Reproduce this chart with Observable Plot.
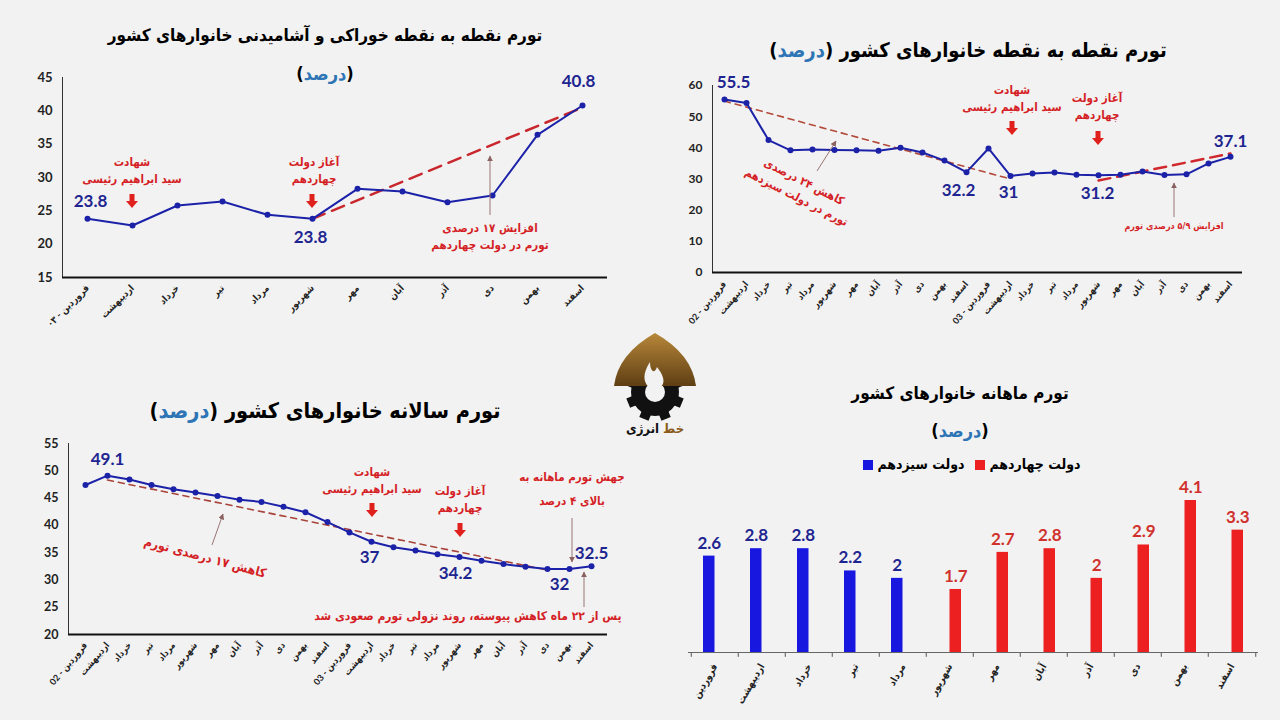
<!DOCTYPE html>
<html><head><meta charset="utf-8">
<script src="https://cdn.jsdelivr.net/npm/d3@7"></script>
<script src="https://cdn.jsdelivr.net/npm/@observablehq/plot@0.6"></script>
<style>
body{margin:0;background:#f2f2f2;}
#root{position:relative;width:1280px;height:720px;overflow:hidden;background:#f2f2f2;font-family:"DejaVu Sans Condensed","DejaVu Sans",sans-serif;}
.plot{position:absolute;}
.plot svg{overflow:visible;}
.t{position:absolute;transform:translate(-50%,-50%);white-space:nowrap;direction:rtl;text-align:center;font-weight:bold;}
.title{font-size:18px;color:#000;}
.ann{color:#d51f26;font-size:11.5px;line-height:1.5;}
.blue{color:#2e75b6;}
#overlay{position:absolute;left:0;top:0;pointer-events:none;}
.leg{position:absolute;font-weight:bold;font-size:14px;direction:rtl;white-space:nowrap;}
.sq{display:inline-block;width:10px;height:10px;vertical-align:middle;}
</style></head>
<body>
<div id="root"></div>
<script>
// ---------- DATA ----------
const months = ["فروردین","اردیبهشت","خرداد","تیر","مرداد","شهریور","مهر","آبان","آذر","دی","بهمن","اسفند"];

// Panel 1: food point-to-point inflation (1403)
const foodLabels = ["فروردین - ۰۳", ...months.slice(1)];
const foodValues = [23.8,22.8,25.8,26.4,24.4,23.8,28.3,27.9,26.3,27.3,36.4,40.8];
const foodTrendX = [5, 11];
const foodTrendY = [23.8, 40.5];

// Panel 2: point-to-point inflation (1402-1403)
const p2pLabels = ["فروردین - 02", ...months.slice(1), "فروردین - 03", ...months.slice(1)];
const p2pValues = [55.5,54.4,42.5,39.2,39.5,39.3,39.2,39.1,40.0,38.5,35.9,32.2,
                   39.8,31.0,31.8,32.1,31.4,31.2,31.4,32.4,31.3,31.5,35.0,37.1];
const p2pTrend1X = [0, 13];
const p2pTrend1Y = [55.0, 30.0];
const p2pTrend2X = [17, 23];
const p2pTrend2Y = [29.5, 38.2];

// Panel 3: annual inflation
const annualLabels = p2pLabels;
const annualValues = [47.4,49.1,48.4,47.4,46.6,46.0,45.4,44.7,44.3,43.4,42.4,40.6,
                      38.7,37.0,36.0,35.4,34.7,34.2,33.5,32.9,32.4,32.0,32.0,32.5];
const annualTrendX = [1, 21];
const annualTrendY = [48.3, 31.8];

// Panel 4: monthly inflation
const monthlyValues = [2.6,2.8,2.8,2.2,2.0,1.7,2.7,2.8,2.0,2.9,4.1,3.3];
const monthlyGov = ["13","13","13","13","13","14","14","14","14","14","14","14"];

// ---------- STYLE ----------
const NAVY = "#1f2590", LINE = "#1c22a8";
const root = document.getElementById("root");
const baseStyle = {background:"transparent", fontFamily:"Lato, 'DejaVu Sans Condensed', sans-serif", overflow:"visible", color:"#111"};

function place(svg, left, top){
  const d = document.createElement("div");
  d.className = "plot"; d.style.left = left+"px"; d.style.top = top+"px";
  d.appendChild(svg); root.appendChild(d);
}
function html(h){ root.insertAdjacentHTML("beforeend", h); }

function valueLabel(data, i, dx, dy, size){
  return Plot.text([data[i]], {x:"i", y:"v", text:d=>String(d.v), dx, dy,
    fill:NAVY, fontSize:size, fontWeight:"bold", fontFamily:"Lato"});
}

// ---------- PANEL 1 ----------
const foodData = foodValues.map((v,i)=>({i,v}));
const foodTrend = foodTrendX.map((x,k)=>({i:x, v:foodTrendY[k]}));
place(Plot.plot({
  width:620, height:270, marginLeft:62, marginRight:13, marginTop:17, marginBottom:53,
  style:baseStyle,
  x:{type:"point", domain:d3.range(12), padding:0.5, axis:null},
  y:{domain:[15,45], axis:null},
  marks:[
    Plot.axisY({ticks:d3.range(15,46,5), label:null, tickSize:0, tickPadding:10, fontSize:13, fontWeight:"bold", fill:"#222"}),
    Plot.axisX({label:null, tickSize:0, tickPadding:9, tickRotate:-45, tickFormat:i=>foodLabels[i], fontSize:9.5, fontWeight:"bold", fill:"#222"}),
    Plot.frame({anchor:"left", stroke:"#333", strokeWidth:1}),
    Plot.ruleY([15], {stroke:"#111", strokeWidth:2}),
    Plot.line(foodTrend, {x:"i", y:"v", stroke:"#c8282d", strokeWidth:2.5, strokeDasharray:"13,8"}),
    Plot.line(foodData, {x:"i", y:"v", stroke:LINE, strokeWidth:2}),
    Plot.dot(foodData, {x:"i", y:"v", r:3, fill:LINE}),
    valueLabel(foodData, 0, 3, -17, 17),
    valueLabel(foodData, 5, -2, 19, 17),
    valueLabel(foodData, 11, -4, -24, 17)
  ]
}), 0, 60);

// ---------- PANEL 2 ----------
const p2pData = p2pValues.map((v,i)=>({i,v}));
const p2pT1 = p2pTrend1X.map((x,k)=>({i:x, v:p2pTrend1Y[k]}));
const p2pT2 = p2pTrend2X.map((x,k)=>({i:x, v:p2pTrend2Y[k]}));
place(Plot.plot({
  width:630, height:280, marginLeft:62, marginRight:38, marginTop:25, marginBottom:68,
  style:baseStyle,
  x:{type:"point", domain:d3.range(24), padding:0.5, axis:null},
  y:{domain:[0,60], axis:null},
  marks:[
    Plot.axisY({ticks:d3.range(0,61,10), label:null, tickSize:0, tickPadding:10, fontSize:12, fontWeight:"bold", fill:"#222"}),
    Plot.axisX({label:null, tickSize:0, tickPadding:10, tickRotate:-50, tickFormat:i=>p2pLabels[i], fontSize:9, fontWeight:"bold", fill:"#222"}),
    Plot.frame({anchor:"left", stroke:"#333", strokeWidth:1}),
    Plot.ruleY([0], {stroke:"#111", strokeWidth:2}),
    Plot.line(p2pT1, {x:"i", y:"v", stroke:"#b34a3a", strokeWidth:1.6, strokeDasharray:"6,5"}),
    Plot.line(p2pT2, {x:"i", y:"v", stroke:"#d0282d", strokeWidth:2.5, strokeDasharray:"12,7"}),
    Plot.line(p2pData, {x:"i", y:"v", stroke:LINE, strokeWidth:2}),
    Plot.dot(p2pData, {x:"i", y:"v", r:3, fill:LINE}),
    valueLabel(p2pData, 0, 9, -17, 17),
    valueLabel(p2pData, 11, -8, 18, 17),
    valueLabel(p2pData, 13, -2, 17, 17),
    valueLabel(p2pData, 17, -1, 18, 17),
    valueLabel(p2pData, 23, 0, -15, 17)
  ]
}), 650, 60);

// ---------- PANEL 3 ----------
const annualData = annualValues.map((v,i)=>({i,v}));
const annualTrend = annualTrendX.map((x,k)=>({i:x, v:annualTrendY[k]}));
place(Plot.plot({
  width:640, height:290, marginLeft:68, marginRight:33, marginTop:13, marginBottom:86,
  style:baseStyle,
  x:{type:"point", domain:d3.range(24), padding:0.5, axis:null},
  y:{domain:[20,55], axis:null},
  marks:[
    Plot.axisY({ticks:d3.range(20,56,5), label:null, tickSize:0, tickPadding:10, fontSize:12.5, fontWeight:"bold", fill:"#222"}),
    Plot.axisX({label:null, tickSize:0, tickPadding:9, tickRotate:-50, tickFormat:i=>annualLabels[i], fontSize:9, fontWeight:"bold", fill:"#222"}),
    Plot.frame({anchor:"left", stroke:"#333", strokeWidth:1}),
    Plot.ruleY([20], {stroke:"#111", strokeWidth:2}),
    Plot.line(annualTrend, {x:"i", y:"v", stroke:"#a8433a", strokeWidth:1.6, strokeDasharray:"6,5"}),
    Plot.line(annualData, {x:"i", y:"v", stroke:LINE, strokeWidth:2}),
    Plot.dot(annualData, {x:"i", y:"v", r:3, fill:LINE}),
    valueLabel(annualData, 1, 0, -16, 17),
    valueLabel(annualData, 13, -2, 16, 17),
    valueLabel(annualData, 17, -4, 17, 17),
    valueLabel(annualData, 22, -10, 16, 17),
    valueLabel(annualData, 23, 0, -13, 17)
  ]
}), 0, 430);

// ---------- PANEL 4 ----------
const monthlyData = monthlyValues.map((v,i)=>({m:months[i], v, g:monthlyGov[i]}));
const blueBars = monthlyData.filter(d=>d.g==="13");
const redBars = monthlyData.filter(d=>d.g==="14");
place(Plot.plot({
  width:630, height:250, marginLeft:38, marginRight:22, marginTop:30, marginBottom:68,
  style:baseStyle,
  x:{type:"band", domain:months, paddingInner:0, paddingOuter:0, axis:null},
  y:{domain:[0,4.1], axis:null},
  marks:[
    Plot.axisX({label:null, tickSize:0, tickPadding:12, tickRotate:-60, fontSize:10, fontWeight:"bold", fill:"#222"}),
    Plot.ruleX(months, {x:d=>d, dx:-23.75, y1:0, y2:-0.13, stroke:"#555"}),
    Plot.ruleX([months[11]], {x:d=>d, dx:23.75, y1:0, y2:-0.13, stroke:"#555"}),
    Plot.barY(blueBars, {x:"m", y:"v", fill:"#1717e0", insetLeft:12, insetRight:23.5}),
    Plot.barY(redBars, {x:"m", y:"v", fill:"#ec2020", insetLeft:23.5, insetRight:12}),
    Plot.ruleY([0], {stroke:"#666", strokeWidth:1.2}),
    Plot.text(blueBars, {x:"m", y:"v", text:d=>String(d.v), dx:-5.75, dy:-13, fill:NAVY, fontSize:17, fontWeight:"bold", fontFamily:"Lato"}),
    Plot.text(redBars, {x:"m", y:"v", text:d=>String(d.v), dx:5.75, dy:-13, fill:"#d0312d", fontSize:17, fontWeight:"bold", fontFamily:"Lato"})
  ]
}), 650, 470);

// ---------- TITLES ----------
html(`<div class="t title" style="left:325px;top:35px;font-size:17px;">تورم نقطه به نقطه خوراکی و آشامیدنی خانوارهای کشور</div>`);
html(`<div class="t title" style="left:325px;top:73px;">(<span class="blue">درصد</span>)</div>`);
html(`<div class="t title" style="left:968px;top:50px;font-size:20px;">تورم نقطه به نقطه خانوارهای کشور (<span class="blue">درصد</span>)</div>`);
html(`<div class="t title" style="left:325px;top:410px;font-size:21.5px;">تورم سالانه خانوارهای کشور (<span class="blue">درصد</span>)</div>`);
html(`<div class="t title" style="left:960px;top:393px;font-size:17px;">تورم ماهانه خانوارهای کشور</div>`);
html(`<div class="t title" style="left:960px;top:430px;">(<span class="blue">درصد</span>)</div>`);
// legend
html(`<div class="leg" style="left:863px;top:456px;"><span>دولت سیزدهم</span> <span class="sq" style="background:#1717e0"></span></div>`);
html(`<div class="leg" style="left:975px;top:456px;"><span>دولت چهاردهم</span> <span class="sq" style="background:#ec2020"></span></div>`);

// ---------- ANNOTATIONS ----------
function ann(x,y,txt,extra){ html(`<div class="t ann" style="left:${x}px;top:${y}px;${extra||""}">${txt}</div>`); }
ann(132,171,"شهادت<br>سید ابراهیم رئیسی");
ann(314,171,"آغاز دولت<br>چهاردهم");
ann(490,237,"افزایش ۱۷ درصدی<br>تورم در دولت چهاردهم");
ann(800,190,"کاهش ۲۴ درصدی<br>تورم در دولت سیزدهم","transform:translate(-50%,-50%) rotate(27deg);");
ann(1012,99,"شهادت<br>سید ابراهیم رئیسی");
ann(1097,107,"آغاز دولت<br>چهاردهم");
ann(1174,227,"افزایش ۵/۹ درصدی تورم","font-size:9px;");
ann(205,558,"کاهش ۱۷ درصدی تورم","font-size:12.5px;transform:translate(-50%,-50%) rotate(15deg);");
ann(372,481,"شهادت<br>سید ابراهیم رئیسی");
ann(460,500,"آغاز دولت<br>چهاردهم");
ann(572,489,"جهش تورم ماهانه به<br>بالای ۴ درصد","line-height:2.1;");
ann(468,616,"پس از ۲۲ ماه کاهش پیوسته، روند نزولی تورم صعودی شد","font-size:12px;");

function arrow(cx,cy){
  return `<rect x="${cx-2.5}" y="${cy-8}" width="5" height="7" fill="#e0201c"/><polygon points="${cx-6},${cy-1} ${cx+6},${cy-1} ${cx},${cy+6}" fill="#e0201c"/>`;
}
html(`<svg id="overlay" width="1280" height="720">
<defs><marker id="ah" viewBox="0 0 10 10" refX="9" refY="5" markerWidth="6" markerHeight="6" orient="auto"><path d="M0,0 L10,5 L0,10 z" fill="#8a6060"/></marker></defs>
<g stroke="#9a7474" stroke-width="1" fill="none">
<line x1="490" y1="215" x2="490" y2="156" marker-end="url(#ah)"/>
<line x1="817" y1="171" x2="836" y2="141" marker-end="url(#ah)"/>
<line x1="1174" y1="217" x2="1174" y2="183" marker-end="url(#ah)"/>
<line x1="212" y1="545" x2="223" y2="514" marker-end="url(#ah)"/>
<line x1="572" y1="518" x2="572" y2="562" marker-end="url(#ah)"/>
<line x1="584" y1="607" x2="584" y2="572" marker-end="url(#ah)"/>
</g>
${arrow(132,202)}${arrow(312,202)}${arrow(1012,129)}${arrow(1098,139)}${arrow(372,511)}${arrow(460,531)}
<g transform="translate(600,330)">
  <defs><linearGradient id="br" x1="0" y1="0" x2="0" y2="1"><stop offset="0" stop-color="#b8883a"/><stop offset="1" stop-color="#5e3e12"/></linearGradient>
  <clipPath id="gc"><rect x="0" y="52" width="110" height="50"/></clipPath></defs>
  <g clip-path="url(#gc)">
    ${d3.range(8).map(k=>`<rect x="50" y="33" width="10" height="12" fill="#111" transform="rotate(${k*45+22.5} 55 62)"/>`).join("")}
    <circle cx="55" cy="62" r="24" fill="#111"/>
    <circle cx="55" cy="62" r="10" fill="#f2f2f2"/>
  </g>
  <path d="M14 56 Q 18 24 55 3 Q 92 24 96 56 Z" fill="url(#br)"/>
  <path d="M55 60 C 42 56 42 44 50 32 C 50 42 55 44 57 37 C 64 46 68 56 55 60 Z" fill="#f2f2f2"/>
  <text x="55" y="103" text-anchor="middle" direction="rtl" font-family="DejaVu Sans Condensed, DejaVu Sans" font-weight="bold" font-size="13" fill="#111"><tspan fill="#8a5a1a">خط</tspan> انرژی</text>
</g>
</svg>`);
</script>
</body></html>
